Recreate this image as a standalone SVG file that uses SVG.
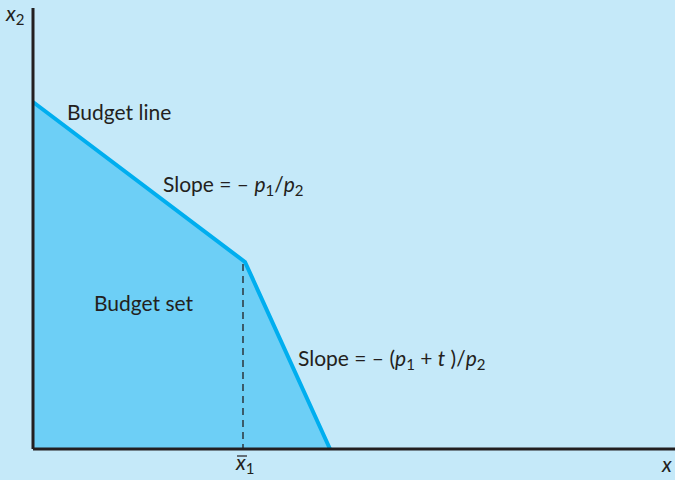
<svg xmlns="http://www.w3.org/2000/svg" width="675" height="480" viewBox="0 0 675 480">
<style>
.t{font-family:Lato,"Liberation Sans",sans-serif;font-size:21px;fill:#231F20}
.i{font-style:italic}
.s{font-size:15px}
</style>
<rect width="675" height="480" fill="#C5E9F9"/>
<g id="budget-set">
<polygon points="33,102 245,262 330,449 33,449" fill="#6DCFF6"/>
</g>
<g id="connectors">
<line x1="243" y1="264" x2="243" y2="449" stroke="#231F20" stroke-width="1.3" stroke-dasharray="7,5"/>
<polyline points="33,102 245,262 330,449" fill="none" stroke="#00AEEF" stroke-width="4"/>
<line x1="33" y1="8" x2="33" y2="449" stroke="#231F20" stroke-width="3"/>
<line x1="33" y1="449" x2="675" y2="449" stroke="#231F20" stroke-width="3"/>
</g>
<g id="labels">
<text class="t i" x="6" y="21">x<tspan class="s" dy="4" font-style="normal">2</tspan></text>
<text class="t" x="67" y="120">Budget line</text>
<text class="t" x="163" y="192">Slope = – <tspan class="i">p</tspan><tspan class="s" dy="4">1</tspan><tspan dy="-4">/</tspan><tspan class="i">p</tspan><tspan class="s" dy="4">2</tspan></text>
<text class="t" x="94" y="311">Budget set</text>
<text class="t" x="298" y="366">Slope = – (<tspan class="i">p</tspan><tspan class="s" dy="4">1</tspan><tspan dy="-4"> + </tspan><tspan class="i">t</tspan> )/<tspan class="i">p</tspan><tspan class="s" dy="4">2</tspan></text>
<text class="t i" x="236" y="470">x<tspan class="s" dy="4" font-style="normal">1</tspan></text>
<line x1="237" y1="456" x2="247" y2="456" stroke="#231F20" stroke-width="1.2"/>
<text class="t i" x="662" y="472">x</text>
</g>
</svg>
